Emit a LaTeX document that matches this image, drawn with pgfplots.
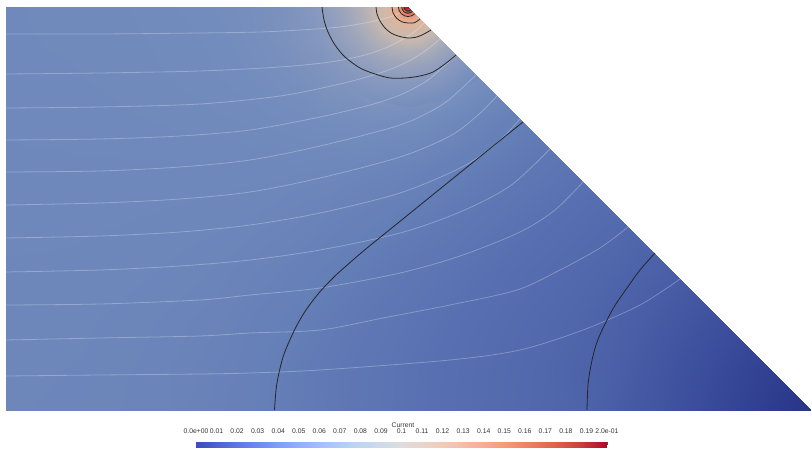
\documentclass[border=0pt]{standalone}
\usepackage{pgfplots}
\pgfplotsset{compat=1.18}
\usepackage{fontspec}
\setmainfont{Liberation Sans}
\pgfplotsset{
 colormap={field}{rgb255(0cm)=(40,52,135) rgb255(2cm)=(58,76,155) rgb255(4cm)=(78,100,170) rgb255(5cm)=(88,112,177) rgb255(6cm)=(100,126,183) rgb255(7cm)=(114,140,189) rgb255(8cm)=(140,155,190) rgb255(9cm)=(170,172,185) rgb255(10cm)=(200,185,175) rgb255(12cm)=(225,180,155) rgb255(14cm)=(232,155,125) rgb255(16cm)=(222,115,92) rgb255(18cm)=(200,65,62) rgb255(20cm)=(175,15,40)},
 colormap={coolwarm}{rgb255=(59,76,192) rgb255=(77,104,215) rgb255=(98,130,234) rgb255=(119,154,247) rgb255=(141,176,254) rgb255=(163,194,255) rgb255=(184,208,249) rgb255=(204,217,238) rgb255=(221,221,221) rgb255=(236,211,197) rgb255=(245,196,173) rgb255=(247,177,148) rgb255=(244,154,123) rgb255=(236,127,99) rgb255=(222,96,77) rgb255=(203,62,56) rgb255=(180,4,38)},
 stream/.style={draw=white, draw opacity=0.27, line width=0.8pt, smooth, tension=0.5, mark=none},
 cont/.style={draw=black!85, line width=0.8pt, smooth, tension=0.5, mark=none},
}
\pgfplotstableread{
x y v
6 7 0.068
46.2 7 0.0684
86.4 7 0.0686
126.6 7 0.0689
166.8 7 0.0695
207 7 0.0702
247.2 7 0.0714
287.4 7 0.074
327.6 7 0.0805
367.8 7 0.095
408 7 0.15
6 40 0.068
49.5 40 0.0683
93 40 0.0685
136.5 40 0.0688
180 40 0.0693
223.5 40 0.070
267 40 0.0722
310.5 40 0.076
354 40 0.0866
397.5 40 0.098
441 40 0.090
6 80 0.0678
53.5 80 0.068
101 80 0.0683
148.5 80 0.0687
196 80 0.0692
243.5 80 0.070
291 80 0.0718
338.5 80 0.0755
386 80 0.0795
433.5 80 0.078
481 80 0.0715
6 120 0.0676
57.5 120 0.0678
109 120 0.068
160.5 120 0.0683
212 120 0.0687
263.5 120 0.0693
315 120 0.0703
366.5 120 0.0712
418 120 0.0705
469.5 120 0.066
521 120 0.0605
6 170 0.0673
62.5 170 0.0673
119 170 0.0673
175.5 170 0.0673
232 170 0.0672
288.5 170 0.067
345 170 0.0665
401.5 170 0.0645
458 170 0.0605
514.5 170 0.0565
571 170 0.0527
6 220 0.067
67.5 220 0.067
129 220 0.0668
190.5 220 0.0665
252 220 0.066
313.5 220 0.0643
375 220 0.0613
436.5 220 0.0575
498 220 0.0533
559.5 220 0.0491
621 220 0.045
6 270 0.0667
72.5 270 0.0666
139 270 0.0663
205.5 270 0.0655
272 270 0.0635
338.5 270 0.0601
405 270 0.0557
471.5 270 0.0513
538 270 0.0469
604.5 270 0.0424
671 270 0.0357
6 320 0.0665
77.5 320 0.0663
149 320 0.0655
220.5 320 0.064
292 320 0.0605
363.5 320 0.0559
435 320 0.0513
506.5 320 0.0466
578 320 0.042
649.5 320 0.0333
721 320 0.0229
6 370 0.0663
82.5 370 0.066
159 370 0.065
235.5 370 0.0625
312 370 0.0578
388.5 370 0.0529
465 370 0.048
541.5 370 0.0432
618 370 0.0355
694.5 370 0.0222
771 370 0.0103
6 410 0.0662
86.5 410 0.0658
167 410 0.0648
247.5 410 0.0615
328 410 0.0566
408.5 410 0.0514
489 410 0.0463
569.5 410 0.0411
650 410 0.0288
730.5 410 0.0144
811 410 0
}\fieldgrid
\pgfplotstableread{
x y v
408 7 0.2
408 7 0.2
408 7 0.2
408 7 0.2
408 7 0.2
408 7 0.2
408 7 0.2
405 7 0.193
405.23 8.15 0.193
405.88 9.12 0.193
406.85 9.77 0.193
408 10 0.193
409.15 9.77 0.193
410.12 9.12 0.193
402 7 0.161
402.46 9.30 0.161
403.76 11.24 0.161
405.70 12.54 0.161
408 13 0.161
410.30 12.54 0.161
412.24 11.24 0.161
398.5 7 0.14
399.22 10.64 0.14
401.28 13.72 0.14
404.36 15.78 0.14
408 16.5 0.14
411.64 15.78 0.142
414.72 13.72 0.142
395 7 0.128
395.99 11.98 0.128
398.81 16.19 0.128
403.02 19.01 0.128
408 20 0.128
412.98 19.01 0.13
417.19 16.19 0.13
392 7 0.12
393.22 13.12 0.12
396.69 18.31 0.12
401.88 21.78 0.12
408 23 0.12
414.12 21.78 0.1215
419.31 18.31 0.1215
386 7 0.111
387.67 15.42 0.111
392.44 22.56 0.111
399.58 27.33 0.111
408 29 0.111
416.42 27.33 0.112
423.56 22.56 0.1122
377 7 0.101
379.36 18.86 0.101
386.08 28.92 0.101
396.14 35.64 0.101
408 38 0.101
419.86 35.64 0.1015
429.92 28.92 0.102
363 7 0.0931
366.42 24.22 0.0924
376.18 38.82 0.0921
390.78 48.58 0.0916
408 52 0.0914
425.22 48.58 0.0913
439.82 38.82 0.0916
348 7 0.0873
352.57 29.96 0.0866
365.57 49.43 0.0861
385.04 62.43 0.0851
408 67 0.0842
430.96 62.43 0.084
450.43 49.43 0.0838
333 7 0.0828
338.71 35.70 0.0821
354.97 60.03 0.0813
379.30 76.29 0.080
408 82 0.0786
436.70 76.29 0.0783
461.03 60.03 0.0778
320 7 0.0796
326.70 40.68 0.0788
345.78 69.22 0.078
374.32 88.30 0.0764
408 95 0.0746
441.68 88.30 0.0742
470.22 69.22 0.0734
308 7 0.077
315.61 45.27 0.0762
337.29 77.71 0.0753
369.73 99.39 0.0735
408 107 0.0714
446.27 99.39 0.071
478.71 77.71 0.070
}\cornergrid
\begin{document}
\begin{tikzpicture}
\useasboundingbox (0,0) rectangle (812pt,449pt);
\begin{axis}[at={(0pt,0pt)}, anchor=south west, width=812pt, height=449pt, scale only axis,
  xmin=0, xmax=812, ymin=0, ymax=449, y dir=reverse, hide axis, clip=false,
  colormap name=field, point meta min=0, point meta max=0.2]
\addplot[surf, shader=interp, mesh/cols=11, point meta=explicit] table[x=x, y=y, meta=v] {\fieldgrid};
\addplot[surf, shader=interp, mesh/cols=7, point meta=explicit] table[x=x, y=y, meta=v] {\cornergrid};
% current streamlines
\addplot[stream] coordinates {(6,34) (100,34) (200,33) (260,32) (300,30) (340,27) (370,22) (390,17) (402,12) (410,9)};
\addplot[stream] coordinates {(6,74) (100,73) (200,71) (280,67) (330,62) (365,55) (390,46) (408,36) (418,29) (424,23)};
\addplot[stream] coordinates {(6,108) (100,107) (200,104) (280,96) (340,84) (380,73) (405,63) (425,51) (440,39)};
\addplot[stream] coordinates {(6,140) (100,139) (180,136) (250,130) (320,117) (370,105) (400,95) (425,82) (442,68) (456,55)};
\addplot[stream] coordinates {(6,172) (100,171) (180,167) (250,160) (320,146) (400,125) (440,106) (460,90) (476,75)};
\addplot[stream] coordinates {(6,205) (100,203) (180,199) (250,192) (320,178) (400,157) (450,136) (478,115) (497,96)};
\addplot[stream] coordinates {(6,238) (100,236) (180,232) (250,225) (320,213) (400,193) (460,168) (495,145) (520,119)};
\addplot[stream] coordinates {(6,272) (100,270) (180,266) (250,260) (320,250) (400,233) (460,212) (510,186) (550,149)};
\addplot[stream] coordinates {(6,305) (100,304) (200,300) (250,295) (320,288) (400,273) (460,256) (520,232) (555,210) (583,182)};
\addplot[stream] coordinates {(6,340) (100,338) (200,336) (250,333) (320,330) (383,318) (450,305) (517,290) (560,270) (600,248) (628,227)};
\addplot[stream] coordinates {(6,376) (100,375) (200,374) (250,373) (320,370) (450,360) (520,350) (583,330) (640,305) (680,279)};
% contours of Current
\addplot[cont] coordinates {(655,253) (640,270) (627,288) (614,307) (603,328) (596,345) (591,365) (588,385) (587,410)};
\addplot[cont] coordinates {(523,122) (500.7,140) (478.4,158) (456,176) (435,193) (414,210) (396.7,224) (380.6,237) (364.6,250) (349.5,263) (335,276) (321.5,290) (312.5,301) (304,313) (296,327) (288.5,343) (283,357) (278.5,375) (276,390) (274.5,410)};
\addplot[cont] coordinates {(322,7) (324,20) (328,32) (335,45) (345,57) (360,68) (375,74) (390,78) (405,78) (420,76) (433,72) (445,64) (456,55)};
\addplot[cont] coordinates {(376,7) (377,14) (380,21) (385,28) (391,33) (398,36) (408,38) (417,37) (424,34) (431,30)};
\addplot[cont] coordinates {(392,7) (393.2,13.1) (396.7,18.3) (401.9,21.8) (408,23) (414.5,22.7) (420,19)};
\addplot[cont] coordinates {(398.5,7) (399.2,10.6) (401.3,13.7) (404.4,15.8) (408,16.5) (411.6,15.8) (414.7,13.7)};
\addplot[cont] coordinates {(401.8,7) (402.3,9.4) (403.6,11.4) (405.6,12.7) (408,13.2) (410.4,12.7) (412.4,11.4)};
\addplot[cont] coordinates {(404,7) (404.3,8.5) (405.2,9.8) (406.5,10.7) (408,11) (409.5,10.7) (410.8,9.8)};
\end{axis}
% colour legend
\begin{axis}[at={(196pt,1pt)}, anchor=south west, width=411pt, height=6pt, scale only axis,
  xmin=0, xmax=0.2, ymin=0, ymax=1, clip=false,
  colormap name=coolwarm, point meta min=0, point meta max=0.2,
  axis line style={draw=none}, ytick=\empty,
  xtick={0,0.01,0.02,0.03,0.04,0.05,0.06,0.07,0.08,0.09,0.1,0.11,0.12,0.13,0.14,0.15,0.16,0.17,0.18,0.19,0.2},
  xticklabels={0.0e+00,0.01,0.02,0.03,0.04,0.05,0.06,0.07,0.08,0.09,0.1,0.11,0.12,0.13,0.14,0.15,0.16,0.17,0.18,0.19,2.0e-01},
  xtick pos=right, xticklabel pos=right, tick align=inside, major tick length=3.5pt,
  tick style={draw=black!70, line width=0.5pt},
  xticklabel style={font=\fontsize{6.8}{8}\selectfont, text=black!80, anchor=base, inner sep=0pt, yshift=8pt}]
\addplot[surf, shader=interp, mesh/cols=21, point meta=x] coordinates {
(0,0) (0.01,0) (0.02,0) (0.03,0) (0.04,0) (0.05,0) (0.06,0) (0.07,0) (0.08,0) (0.09,0) (0.1,0) (0.11,0) (0.12,0) (0.13,0) (0.14,0) (0.15,0) (0.16,0) (0.17,0) (0.18,0) (0.19,0) (0.2,0)
(0,1) (0.01,1) (0.02,1) (0.03,1) (0.04,1) (0.05,1) (0.06,1) (0.07,1) (0.08,1) (0.09,1) (0.1,1) (0.11,1) (0.12,1) (0.13,1) (0.14,1) (0.15,1) (0.16,1) (0.17,1) (0.18,1) (0.19,1) (0.2,1)};
\end{axis}
\node[font=\fontsize{6.8}{8}\selectfont, text=black!80, anchor=base] at (403pt,21.5pt) {Current};
\end{tikzpicture}
\end{document}
